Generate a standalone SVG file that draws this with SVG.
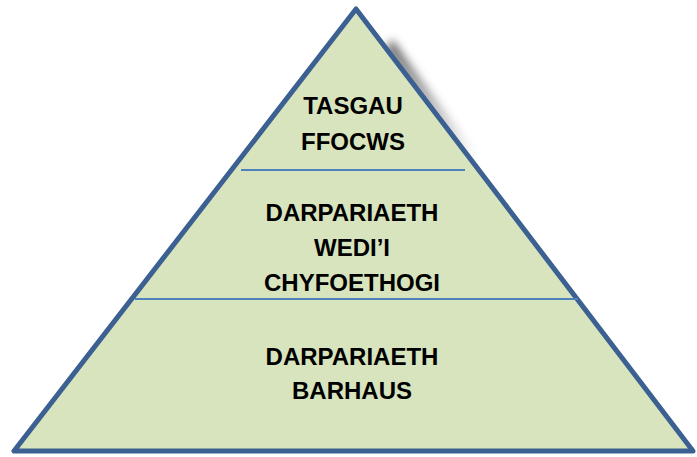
<svg xmlns="http://www.w3.org/2000/svg" width="697" height="457" viewBox="0 0 697 457">
<style>
.t{font-family:"Liberation Sans",Arial,sans-serif;font-weight:bold;font-size:24px;fill:#000;text-anchor:middle}
.div{stroke:#4F81BD;stroke-width:2}
</style>
<defs>
<filter id="sh" x="-20%" y="-20%" width="140%" height="140%"><feGaussianBlur stdDeviation="5"/></filter>
<linearGradient id="sg" x1="0" y1="0" x2="0" y2="1"><stop offset="0" stop-color="#000" stop-opacity="0.7"/><stop offset="1" stop-color="#000" stop-opacity="0"/></linearGradient>
</defs>
<rect width="697" height="457" fill="#fff"/>
<path d="M392,40 L475,155 L465,160 L386,48 Z" fill="url(#sg)" filter="url(#sh)"/>
<g id="pyramid">
<polygon points="356,9 14,451 693,451" fill="#D7E4BD" stroke="#3B6091" stroke-width="5" stroke-linejoin="round"/>
</g>
<g id="connectors">
<line class="div" x1="241" y1="170" x2="465" y2="170"/>
<line class="div" x1="135" y1="299" x2="578" y2="299"/>
</g>
<g id="top"><text class="t" x="353" y="114">TASGAU</text><text class="t" x="353" y="150">FFOCWS</text></g>
<g id="middle"><text class="t" x="352" y="221">DARPARIAETH</text><text class="t" x="352" y="256">WEDI’I</text><text class="t" x="352" y="291">CHYFOETHOGI</text></g>
<g id="bottom"><text class="t" x="352" y="365">DARPARIAETH</text><text class="t" x="352" y="399">BARHAUS</text></g>
</svg>
